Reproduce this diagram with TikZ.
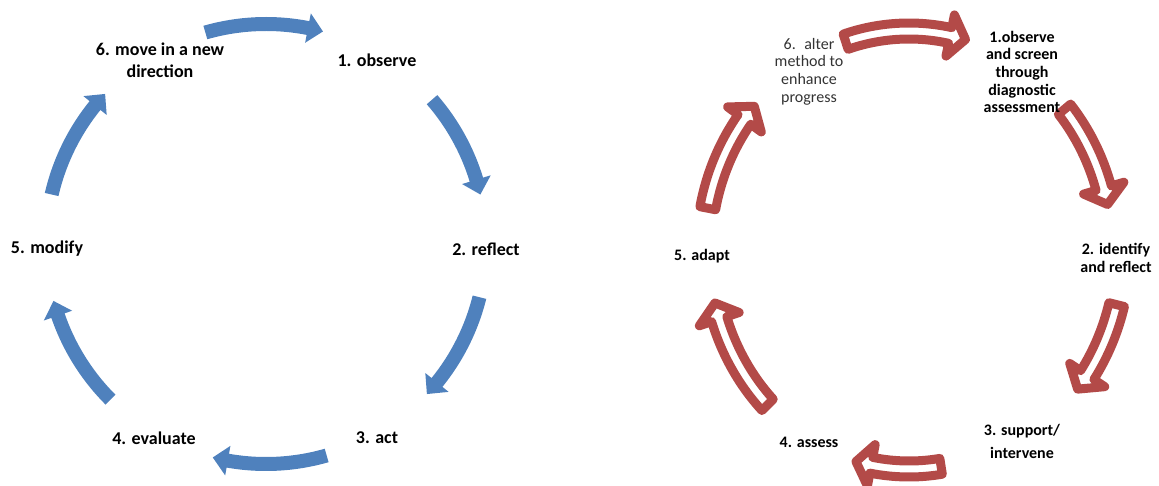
\documentclass[tikz,border=0pt]{standalone}
\usepackage{fontspec}
\setmainfont{Carlito}
\usetikzlibrary{calc}
\definecolor{cblue}{HTML}{4F81BD}
\definecolor{cred}{HTML}{B34A48}
\newcommand\cyc[9]{% #1 center, #2 rx, #3 ry, #4 start, #5 end, #6 head deg, #7 shaft w, #8 head w, #9 style
  \pgfmathsetmacro\hb{#5+#6}%
  \pgfmathsetmacro\axo{#2+#7/2}\pgfmathsetmacro\ayo{#3+#7/2}%
  \pgfmathsetmacro\axi{#2-#7/2}\pgfmathsetmacro\ayi{#3-#7/2}%
  \pgfmathsetmacro\hxo{#2+#8/2}\pgfmathsetmacro\hyo{#3+#8/2}%
  \pgfmathsetmacro\hxi{#2-#8/2}\pgfmathsetmacro\hyi{#3-#8/2}%
  \path[#9] ($(#1)+(#4:\axo pt and \ayo pt)$)
    arc[start angle=#4, end angle=\hb, x radius=\axo pt, y radius=\ayo pt]
    -- ($(#1)+(\hb:\hxo pt and \hyo pt)$)
    -- ($(#1)+(#5:#2pt and #3pt)$)
    -- ($(#1)+(\hb:\hxi pt and \hyi pt)$)
    -- ($(#1)+(\hb:\axi pt and \ayi pt)$)
    arc[start angle=\hb, end angle=#4, x radius=\axi pt, y radius=\ayi pt]
    -- cycle;
}
\tikzset{
  bluearrow/.style={fill=cblue},
  redarrow/.style={fill=white, draw=cred, line width=9pt, line join=round},
  bluelabel/.style={font=\fontsize{18}{21.5}\selectfont\bfseries, align=center, inner sep=0pt, text=black},
  redlabel/.style={font=\fontsize{16}{17.6}\selectfont\bfseries, align=center, inner sep=0pt, text=black},
  redlabelthin/.style={font=\fontsize{16}{17.6}\selectfont, align=center, inner sep=0pt, text=black!80},
}
\begin{document}
\begin{tikzpicture}[x=1pt,y=1pt]
\useasboundingbox (0,0) rectangle (1159,485);
\clip (0,0) rectangle (1159,485);
\coordinate (B) at (266,241);
\coordinate (R) at (909,235);
% blue cycle
\cyc{B}{220}{220}{106}{75}{4}{14}{30}{bluearrow}
\cyc{B}{220}{220}{41}{13}{4}{14}{30}{bluearrow}
\cyc{B}{220}{220}{-14}{-43}{4}{14}{30}{bluearrow}
\cyc{B}{220}{220}{-74}{-104}{4}{14}{30}{bluearrow}
\cyc{B}{220}{220}{225}{195}{4}{14}{30}{bluearrow}
\cyc{B}{220}{220}{167}{137}{4}{14}{30}{bluearrow}
\node[bluelabel] (n6) at (160,424.5) {6. move in a new\\direction};
\node[bluelabel] (n1) at (377,425) {1. observe};
\node[bluelabel] (n2) at (486,236) {2. reflect};
\node[bluelabel] (n3) at (377,47) {3. act};
\node[bluelabel] (n4) at (154,47) {4. evaluate};
\node[bluelabel] (n5) at (47,236) {5. modify};
% red cycle
\cyc{R}{205}{219}{108}{74}{4.4}{16}{42}{redarrow}
\cyc{R}{203}{219}{40}{12}{4.4}{16}{42}{redarrow}
\cyc{R}{214}{226}{-14}{-38}{4.4}{16}{42}{redarrow}
\cyc{R}{205}{219}{-81}{-105}{4.4}{16}{42}{redarrow}
\cyc{R}{200}{219}{225}{194}{4.4}{16}{42}{redarrow}
\cyc{R}{205}{219}{169}{139}{4.4}{16}{42}{redarrow}
\node[redlabelthin] (r6) at (809,413.5) {6.~ alter\\method to\\enhance\\progress};
\node[redlabel] (r1) at (1022,413) {1.observe\\and screen\\through\\diagnostic\\assessment};
\node[redlabel] (r2) at (1116,227) {2. identify\\and reflect};
\node[redlabel] (r3) at (1022,43.5) {3. support/\\[5pt]intervene};
\node[redlabel] (r4) at (809,43) {4. assess};
\node[redlabel] (r5) at (702,229) {5. adapt};
\end{tikzpicture}
\end{document}
